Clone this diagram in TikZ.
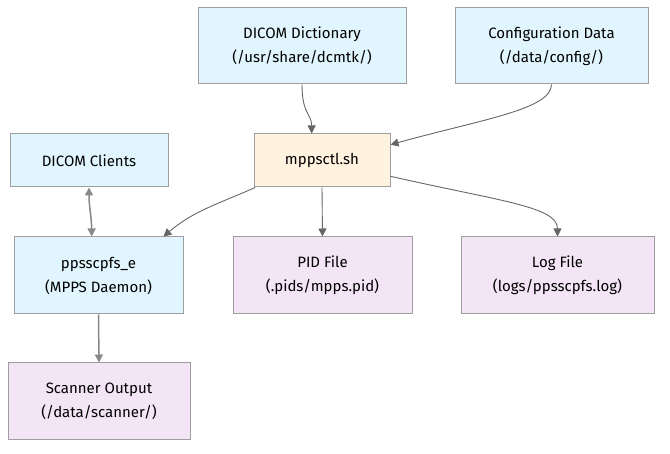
\documentclass[tikz,border=0pt]{standalone}
\usepackage{fontspec}
\setmainfont{Fira Sans}
\usetikzlibrary{arrows.meta}
\definecolor{svcfill}{HTML}{E1F5FE}
\definecolor{ctlfill}{HTML}{FFF3E0}
\definecolor{storefill}{HTML}{F3E5F5}
\definecolor{boxline}{HTML}{9E9E9E}
\definecolor{edgeline}{HTML}{666666}
\definecolor{linkline}{HTML}{888888}

\begin{document}
\begin{tikzpicture}[x=1pt, y=1pt, box/.style={draw=boxline, line width=1pt, rectangle, align=center, inner sep=0pt, font=\fontsize{15}{24}\selectfont}, svc/.style={box, fill=svcfill}, ctlbox/.style={box, fill=ctlfill}, store/.style={box, fill=storefill}, n/.style={-{Triangle[length=8pt, width=8pt]}, line width=0.9pt, draw=edgeline}, b/.style={{Triangle[length=8pt, width=8pt]}-{Triangle[length=8pt, width=8pt]}, line width=1.5pt, draw=linkline, fill=edgeline}, t/.style={-{Triangle[length=8pt, width=8pt]}, line width=1.5pt, draw=linkline, fill=edgeline}]
            \useasboundingbox (0,0) rectangle (670,-454);
            % nodes
            \node[svc, minimum width=208, minimum height=76] (dict) at (302,-46) {DICOM Dictionary\\(/usr/share/dcmtk/)};
            \node[svc, minimum width=193, minimum height=76] (config) at (551.5,-46) {Configuration Data\\(/data/config/)};
            \node[svc, minimum width=158, minimum height=53] (clients) at (89,-160.5) {DICOM Clients};
            \node[ctlbox, minimum width=136, minimum height=53] (ctl) at (322,-160.5) {mppsctl.sh};
            \node[svc, minimum width=169, minimum height=77] (daemon) at (98.5,-275.5) {ppsscpfs\_e\\(MPPS Daemon)};
            \node[store, minimum width=179, minimum height=77] (pid) at (322.5,-275.5) {PID File\\(.pids/mpps.pid)};
            \node[store, minimum width=193, minimum height=77] (log) at (557.5,-275.5) {Log File\\(logs/ppsscpfs.log)};
            \node[store, minimum width=182, minimum height=77] (scanner) at (99,-401.5) {Scanner Output\\(/data/scanner/)};
            % edges
            \draw [->, n] (dict.south) .. controls +(0,-30) and +(0,20) .. (ctl.111);
            \draw [->, n] (config.south) .. controls +(0,-25) and +(90,25) .. (ctl.13);
            \draw [->, n] (ctl.202) to[out=204, in=40] (daemon.31);
            \draw [->, n] (ctl.south) -- (pid.north);
            \draw [->, n] (ctl.-13) .. controls +(110,-25) and +(0,30) .. (log.north);
            \draw [<->, b] (clients.south) .. controls +(0,-20) and +(0,20) .. (daemon.100);
            \draw [->, t] (daemon.south) -- (scanner.north);
        \end{tikzpicture}
\end{document}
